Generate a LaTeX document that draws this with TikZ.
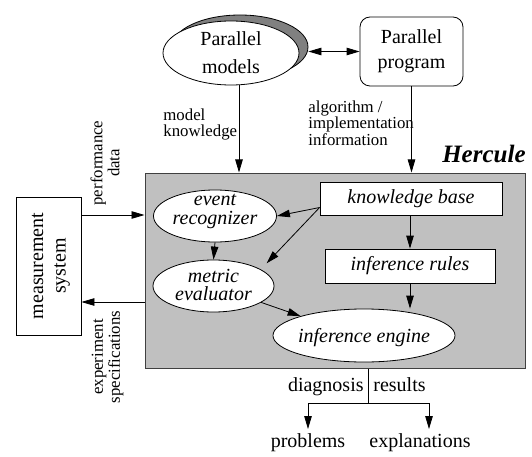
\documentclass[tikz,border=0pt]{standalone}
\usepackage{fontspec}
\setmainfont{Liberation Serif}
\usetikzlibrary{shapes.geometric,arrows.meta}
\definecolor{herculegray}{RGB}{192,192,192}
\definecolor{shadowgray}{RGB}{128,128,128}
\begin{document}
\begin{tikzpicture}[x=1pt,y=-1pt,
  line width=0.8pt,
  >={Triangle[length=13pt,width=7.5pt]},
  itxt/.style={font=\itshape\fontsize{20}{18.6}\selectfont, align=center, inner sep=0pt},
  lab/.style={font=\fontsize{16.8}{16.3}\selectfont, align=left, inner sep=0pt},
  rlab/.style={font=\fontsize{16.8}{17}\selectfont, align=center, inner sep=0pt, rotate=90},
  whitebox/.style={draw, fill=white, rectangle, inner sep=0pt, font=\itshape\fontsize{20}{24}\selectfont},
  whiteell/.style={draw, fill=white, ellipse, inner sep=0pt},
]
\path[use as bounding box] (0,0) rectangle (532,457);

% ---- top row ----
\node[ellipse, draw, fill=shadowgray, minimum width=136pt, minimum height=64pt, inner sep=0pt] (shadow) at (240,47) {};
\node[ellipse, draw, fill=white, minimum width=136pt, minimum height=64pt, inner sep=0pt,
      font=\fontsize{20}{28}\selectfont, align=center] (models) at (231,53) {Parallel\\models};
\node[draw, rounded corners=10pt, minimum width=103pt, minimum height=69pt, inner sep=0pt,
      font=\fontsize{20}{25}\selectfont, align=center] (program) at (411.5,51.5) {Parallel\\program};
\draw[<->] (program.west -| shadow.east) -- (program.west);

% ---- Hercule box ----
\node[draw=black!75, fill=herculegray, line width=1pt, minimum width=380pt, minimum height=195pt, inner sep=0pt] (hercule) at (335,270.5) {};
\node[anchor=base east, font=\bfseries\itshape\fontsize{25}{30}\selectfont, inner sep=0pt] (title) at (526,163) {Hercule};

% ---- inputs from top ----
\coordinate (mk) at ([xshift=8pt]models.south);
\draw[->] (mk) -- (mk |- hercule.north);
\draw[->] (program.south) -- (program.south |- hercule.north);
\node[lab, anchor=west] (mklab) at (163,124.7) {model\\knowledge};
\node[lab, anchor=west] (alglab) at (308,123) {algorithm /\\implementation\\information};

% ---- inner components ----
\node[whitebox, minimum width=182pt, minimum height=33pt] (kb) at (411,198.5) {knowledge base};
\node[whitebox, minimum width=170pt, minimum height=34pt] (rules) at (410,266) {inference rules};
\node[whiteell, minimum width=123pt, minimum height=52pt] (event) at (215,216) {};
\node[itxt] (eventtxt) at (215,211.5) {event\\recognizer};
\node[whiteell, minimum width=121pt, minimum height=52pt] (metric) at (213.5,286) {};
\node[itxt] (metrictxt) at (213.5,285) {metric\\evaluator};
\node[whiteell, minimum width=182pt, minimum height=53pt] (engine) at (364,335.5) {};
\node[itxt] (enginetxt) at (364,338) {inference engine};

\coordinate (kbw) at ([yshift=-9pt]kb.west);
\draw[->] (kbw) -- (event.east);
\draw[->] (kbw) -- ([shift={(10pt,4pt)}]metric.north east);
\draw[->] (event.south) -- (metric.north);
\draw[->] (metric.-19) -- (engine.163);
\draw[->] (kb.south -| rules.north) -- (rules.north);
\draw[->] (rules.south) -- (rules.south |- engine.north);

% ---- measurement system ----
\node[draw, minimum width=65pt, minimum height=138pt, inner sep=0pt] (meas) at (48.5,266) {};
\node[font=\fontsize{20}{22.5}\selectfont, align=center, inner sep=0pt, rotate=90] (meastxt) at (51,266) {measurement\\system};
\coordinate (pdy) at (0,215);
\coordinate (esy) at (0,302);
\draw[->] (meas.east |- pdy) -- (hercule.west |- pdy);
\draw[->] (hercule.west |- esy) -- (meas.east |- esy);
\node[rlab] (pdlab) at (105,163) {performance\\data};
\node[rlab] (eslab) at (107.5,357) {experiment\\specifications};

% ---- outputs ----
\coordinate (split) at (368,403);
\draw (split |- hercule.south) -- (split);
\node[font=\fontsize{20}{24}\selectfont, anchor=base east, inner sep=0pt] (diag) at (364,391.7) {diagnosis};
\node[font=\fontsize{20}{24}\selectfont, anchor=base west, inner sep=0pt] (res) at (373,391.7) {results};
\node[font=\fontsize{20}{24}\selectfont, anchor=base, inner xsep=0pt, inner ysep=4pt] (problems) at (308,447.3) {problems};
\node[font=\fontsize{20}{24}\selectfont, anchor=base, inner xsep=0pt, inner ysep=4pt] (expl) at (420,447.3) {explanations};
\coordinate (explarr) at (429,0);
\draw[->] (split) -| (problems.north);
\draw[->] (split) -| (explarr |- expl.north);
\end{tikzpicture}
\end{document}
